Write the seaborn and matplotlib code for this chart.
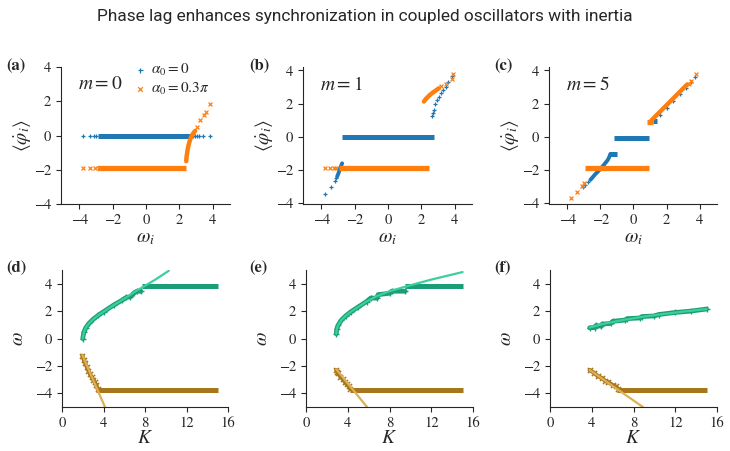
import numpy as np
import seaborn as sns
import matplotlib
matplotlib.use("Agg")
import matplotlib.pyplot as plt

# ---------------- data ----------------
# top row: <phi_dot_i> vs omega_i
# plateaus as (start, end, level), dense branches as x/y lists, sparse tails as points
a_blue_bands = [[-2.9, 2.75, 0.0]]
a_blue_cx, a_blue_cy = [], []
a_blue_x = [-3.78, -3.38, -3.12, -2.98, 2.85, 2.95, 3.05, 3.2, 3.45, 3.84]
a_blue_y = [0, 0, 0, 0, 0, 0, 0, 0, 0, 0]
a_orng_bands = [[-2.95, 2.42, -1.9]]
a_orng_cx = [2.42, 2.44, 2.47, 2.50, 2.54, 2.58, 2.62, 2.67, 2.72, 2.78, 2.84, 2.90, 2.96]
a_orng_cy = [-1.5, -1.25, -1.05, -0.85, -0.65, -0.5, -0.35, -0.2, -0.08, 0.03, 0.12, 0.2, 0.27]
a_orng_x = [-3.78, -3.38, -3.08, 3.04, 3.26, 3.46, 3.58, 3.84]
a_orng_y = [-1.9, -1.9, -1.9, 0.49, 0.88, 1.21, 1.36, 1.84]

b_blue_bands = [[-2.74, 2.76, 0.0]]
b_blue_cx = [-3.05, -2.95, -2.85, -2.75]
b_blue_cy = [-2.4, -2.15, -1.85, -1.6]
b_blue_x = [-3.75, -3.4, -3.2, -3.1, 2.66, 2.7, 2.76, 2.85, 2.96, 3.06, 3.16, 3.3, 3.46, 3.62, 3.82]
b_blue_y = [-3.47, -3.05, -2.65, -2.5, 1.23, 1.45, 1.63, 1.95, 2.22, 2.42, 2.62, 2.8, 3.0, 3.3, 3.65]
b_orng_bands = [[-2.94, 2.46, -1.9]]
b_orng_cx = [2.16, 2.3, 2.5, 2.7, 2.9, 3.06]
b_orng_cy = [2.12, 2.3, 2.5, 2.66, 2.8, 2.92]
b_orng_x = [-3.78, -3.45, -3.25, -3.1, 3.2, 3.46, 3.82, 3.88]
b_orng_y = [-1.9, -1.9, -1.9, -1.9, 3.05, 3.2, 3.5, 3.78]

c_blue_bands = [[-1.15, 0.92, -0.05], [-1.5, -1.0, -1.05], [1.2, 1.45, 0.92]]
c_blue_cx = [-2.6, -2.3, -2.0, -1.75, -1.55, -1.45, -1.4]
c_blue_cy = [-2.6, -2.25, -1.95, -1.65, -1.4, -1.2, -1.05]
c_blue_x = [-3.05, -2.9, -2.75, 1.6, 2.0, 2.4, 2.8, 3.2, 3.5, 3.75]
c_blue_y = [-3.05, -2.9, -2.75, 1.3, 1.75, 2.15, 2.55, 2.95, 3.3, 3.6]
c_orng_bands = [[-2.94, 0.95, -1.87], [0.8, 1.2, 0.9]]
c_orng_cx = [1.1, 1.5, 2.0, 2.5, 3.0, 3.25]
c_orng_cy = [1.0, 1.4, 1.9, 2.4, 2.9, 3.15]
c_orng_x = [-3.75, -3.4, -3.1, -3.0, 3.35, 3.5, 3.8]
c_orng_y = [-3.7, -3.3, -2.95, -2.8, 3.2, 3.35, 3.8]

# bottom row: omega vs K ; theory lines, simulated branches and plateaus
d_gth_K = [2.0, 2.1, 2.3, 2.6, 3.0, 3.5, 4.0, 5.0, 6.0, 7.0, 8.0, 9.0, 10.3]
d_gth_w = [0.0, 0.45, 0.8, 1.1, 1.4, 1.7, 1.95, 2.45, 2.9, 3.4, 3.85, 4.3, 4.95]
d_gsim_K = [2.0, 2.1, 2.3, 2.6, 3.0, 3.5, 4.0, 5.0, 5.8, 6.2, 6.6, 6.9, 7.2, 7.6]
d_gsim_w = [0.0, 0.45, 0.8, 1.1, 1.4, 1.7, 1.95, 2.45, 2.8, 3.0, 3.05, 3.3, 3.45, 3.45]
d_gflat = [7.7, 15.0, 3.8]
d_bth_K = [1.95, 4.2]
d_bth_w = [-1.2, -5.1]
d_bsim_K = [1.95, 2.1, 2.25, 2.4, 2.55, 2.7, 2.85, 3.0, 3.15, 3.3, 3.45]
d_bsim_w = [-1.25, -1.55, -1.8, -2.1, -2.35, -2.6, -2.8, -3.0, -3.2, -3.4, -3.7]
d_bflat = [3.3, 15.0, -3.75]

e_gth_K = [2.9, 2.95, 3.1, 3.4, 3.8, 4.3, 5.0, 5.8, 6.8, 8.0, 9.6, 12.0, 15.0]
e_gth_w = [0.35, 0.7, 1.0, 1.35, 1.65, 1.95, 2.3, 2.7, 3.1, 3.45, 3.8, 4.3, 4.85]
e_gsim_K = [2.9, 2.95, 3.1, 3.4, 3.8, 4.3, 5.0, 5.8, 6.2, 6.8, 6.9, 8.0, 8.2, 9.5]
e_gsim_w = [0.35, 0.7, 1.0, 1.35, 1.65, 1.95, 2.3, 2.7, 2.95, 2.95, 3.2, 3.3, 3.45, 3.45]
e_gflat = [9.5, 15.0, 3.8]
e_bth_K = [2.9, 5.9]
e_bth_w = [-2.25, -5.05]
e_bsim_K = [2.9, 3.0, 3.1, 3.3, 3.5, 3.7, 3.9, 4.1, 4.25]
e_bsim_w = [-2.3, -2.45, -2.55, -2.8, -2.95, -3.15, -3.35, -3.5, -3.7]
e_bflat = [4.2, 15.0, -3.75]

f_gth_K = [3.8, 5.0, 7.0, 9.0, 11.0, 13.0, 15.0]
f_gth_w = [0.8, 1.05, 1.35, 1.6, 1.8, 1.98, 2.15]
f_gsim_K = [3.8, 4.3, 4.4, 4.9, 5.0, 5.8, 6.0, 7.2, 7.4, 8.6, 8.8, 10.0, 10.4, 12.0, 13.5, 15.0]
f_gsim_w = [0.78, 0.8, 0.95, 0.9, 1.05, 1.1, 1.25, 1.35, 1.45, 1.5, 1.6, 1.65, 1.75, 1.9, 2.0, 2.15]
f_bth_K = [3.8, 8.9]
f_bth_w = [-2.3, -5.0]
f_bsim_K = [3.8, 4.2, 4.6, 5.0, 5.3, 5.6, 6.0, 6.3, 6.5]
f_bsim_w = [-2.3, -2.5, -2.75, -2.9, -3.1, -3.2, -3.4, -3.5, -3.65]
f_bflat = [6.4, 15.0, -3.75]

m_values = [0, 1, 5]
top_tags = ["(a)", "(b)", "(c)"]
bot_tags = ["(d)", "(e)", "(f)"]

# ---------------- style ----------------
sns.set_style("ticks")
plt.rcParams["font.family"] = ["STIXGeneral", "DejaVu Serif"]
plt.rcParams["mathtext.fontset"] = "stix"
plt.rcParams["axes.unicode_minus"] = True

blue, orng = "#1f77b4", "#ff7f0e"
g_dark, g_light = "#1b9e77", "#3ccf9c"
b_dark, b_light = "#a6761d", "#dfae55"

W, H = 730, 451
fig = plt.figure(figsize=(7.3, 4.51), dpi=100)

def frac(l, r, t, b):
    return [l / W, 1 - b / H, (r - l) / W, (b - t) / H]

top_boxes = [frac(61, 230, 67, 204), frac(303, 472, 67, 204), frac(549, 717, 67, 204)]
bot_boxes = [frac(62, 228, 270, 407), frac(306, 473, 270, 407), frac(550, 717, 270, 407)]

def band(ax, b, color, lw):
    sns.lineplot(x=b[:2], y=[b[2], b[2]], color=color, lw=lw, ax=ax,
                 sort=False, estimator=None, solid_capstyle="butt")

def curve(ax, x, y, color, lw):
    if len(x):
        sns.lineplot(x=x, y=y, color=color, lw=lw, ax=ax, sort=False, estimator=None)

top = [
    (a_blue_bands, a_blue_cx, a_blue_cy, a_blue_x, a_blue_y,
     a_orng_bands, a_orng_cx, a_orng_cy, a_orng_x, a_orng_y),
    (b_blue_bands, b_blue_cx, b_blue_cy, b_blue_x, b_blue_y,
     b_orng_bands, b_orng_cx, b_orng_cy, b_orng_x, b_orng_y),
    (c_blue_bands, c_blue_cx, c_blue_cy, c_blue_x, c_blue_y,
     c_orng_bands, c_orng_cx, c_orng_cy, c_orng_x, c_orng_y),
]
for i, (bbs, bcx, bcy, bx, by, obs, ocx, ocy, ox, oy) in enumerate(top):
    ax = fig.add_axes(top_boxes[i])
    for b in bbs:
        band(ax, b, blue, 3.6)
    curve(ax, bcx, bcy, blue, 2.8)
    sns.scatterplot(x=bx, y=by, marker="+", color=blue, s=9, linewidth=0.9, ax=ax,
                    label=r"$\alpha_0=0$" if i == 0 else None, legend=False)
    for b in obs:
        band(ax, b, orng, 3.8)
    curve(ax, ocx, ocy, orng, 3.2)
    sns.scatterplot(x=ox, y=oy, marker="x", color=orng, s=8, linewidth=0.9, ax=ax,
                    label=r"$\alpha_0=0.3\pi$" if i == 0 else None, legend=False)
    ax.set_xlim(-5.1, 5.05)
    ax.set_ylim(-4, 4) if i == 0 else ax.set_ylim(-4.05, 4.2)
    ax.set_xticks([-4, -2, 0, 2, 4])
    ax.set_yticks([-4, -2, 0, 2, 4])
    ax.set_xlabel(r"$\omega_i$", fontsize=14, labelpad=2)
    ax.set_ylabel(r"$\langle\dot{\varphi}_i\rangle$", fontsize=14, labelpad=1)
    ax.tick_params(labelsize=10.5, length=3.5, width=0.8)
    ax.text(0.1, 0.87, rf"$m={m_values[i]}$", transform=ax.transAxes, fontsize=14,
            va="center")
    sns.despine(ax=ax)
    if i == 0:
        ax.legend(loc="upper left", bbox_to_anchor=(0.38, 1.08), frameon=False,
                  fontsize=11, handletextpad=0.1, borderaxespad=0, labelspacing=0.2,
                  handlelength=1.2, markerscale=1.2)

bottom = [
    (d_gth_K, d_gth_w, d_gsim_K, d_gsim_w, d_gflat, d_bth_K, d_bth_w, d_bsim_K, d_bsim_w, d_bflat),
    (e_gth_K, e_gth_w, e_gsim_K, e_gsim_w, e_gflat, e_bth_K, e_bth_w, e_bsim_K, e_bsim_w, e_bflat),
    (f_gth_K, f_gth_w, f_gsim_K, f_gsim_w, None, f_bth_K, f_bth_w, f_bsim_K, f_bsim_w, f_bflat),
]
for i, (gK, gw, sK, sw, gf, bK, bw, tK, tw, bf) in enumerate(bottom):
    ax = fig.add_axes(bot_boxes[i])
    curve(ax, sK, sw, g_dark, 3.4)
    sns.scatterplot(x=sK, y=sw, marker="+", color=g_dark, s=14, linewidth=1.0, ax=ax,
                    legend=False)
    if gf is not None:
        band(ax, gf, g_dark, 3.6)
    curve(ax, tK, tw, b_dark, 3.0)
    sns.scatterplot(x=tK, y=tw, marker="x", color=b_dark, s=14, linewidth=1.0, ax=ax,
                    legend=False)
    band(ax, bf, b_dark, 3.6)
    curve(ax, gK, gw, g_light, 1.6)
    curve(ax, bK, bw, b_light, 1.6)
    ax.set_xlim(0, 16)
    ax.set_ylim(-5, 5)
    ax.set_xticks([0, 4, 8, 12, 16])
    ax.set_yticks([-4, -2, 0, 2, 4])
    ax.set_xlabel(r"$K$", fontsize=14, labelpad=0)
    ax.set_ylabel(r"$\omega$", fontsize=14, labelpad=6)
    ax.tick_params(labelsize=10.5, length=3.5, width=0.8)
    sns.despine(ax=ax)

# panel tags
for tag, x in zip(top_tags, [6, 249, 494]):
    fig.text(x / W, 1 - 66 / H, tag, fontsize=12, fontweight="bold", va="center")
for tag, x in zip(bot_tags, [6, 249, 494]):
    fig.text(x / W, 1 - 268 / H, tag, fontsize=12, fontweight="bold", va="center")

fig.text(0.5, 1 - 16 / H,
         "Phase lag enhances synchronization in coupled oscillators with inertia",
         ha="center", va="center", fontsize=12.4, family=["Roboto", "DejaVu Sans"])

fig.savefig("out.png", dpi=100)
